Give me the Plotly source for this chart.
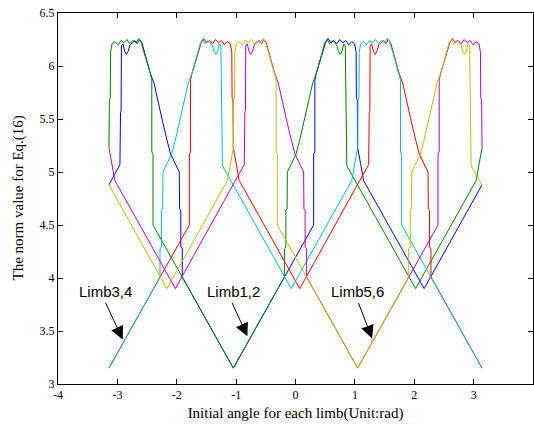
import plotly.graph_objects as go

# ---- data ----
BLUE_X = [-3.141,-2.967,-2.957,-2.947,-2.937,-2.932,-2.907,-2.877,-2.847,-2.817,-2.787,-2.747,-2.707,-2.667,-2.627,-2.587,-2.554,-2.494,-2.444,-2.384,-2.304,-2.244,-2.164,-2.104,-2.044,-1.957,-1.952,-1.932,-1.932,-1.907,-1.907,-1.047,0.306,0.306,0.326,0.326,0.350,0.400,0.456,0.506,0.546,0.596,0.646,0.696,0.746,0.796,0.846,0.896,0.946,0.996,1.021,1.026,1.041,1.046,1.096,1.146,2.166,3.142]
BLUE_Y = [4.88,5.05,5.07,5.56,5.58,6.19,6.21,6.14,6.11,6.14,6.20,6.22,6.24,6.21,6.25,6.22,6.15,6.02,5.93,5.84,5.62,5.49,5.30,5.17,5.10,5.00,4.65,4.64,4.29,4.28,4.01,3.15,4.50,5.17,5.19,5.87,5.93,6.02,6.13,6.22,6.26,6.22,6.24,6.21,6.25,6.22,6.24,6.20,6.23,6.21,6.13,5.70,5.68,5.23,5.08,4.92,3.90,4.88]

GREEN_X = [-3.142,-3.135,-3.120,-3.115,-3.090,-3.040,-2.990,-2.940,-2.890,-2.840,-2.790,-2.740,-2.690,-2.640,-2.600,-2.550,-2.494,-2.444,-2.420,-2.420,-2.400,-2.400,-1.047,-0.187,-0.187,-0.162,-0.162,-0.142,-0.137,-0.050,0.010,0.070,0.150,0.210,0.290,0.350,0.400,0.460,0.493,0.533,0.573,0.613,0.653,0.693,0.723,0.753,0.783,0.813,0.838,0.843,0.853,0.863,0.873,2.023,3.043,3.093,3.142]
GREEN_Y = [5.23,5.68,5.70,6.13,6.21,6.23,6.20,6.24,6.22,6.25,6.21,6.24,6.22,6.26,6.22,6.13,6.02,5.93,5.87,5.19,5.17,4.50,3.15,4.01,4.28,4.29,4.64,4.65,5.00,5.10,5.17,5.30,5.49,5.62,5.84,5.93,6.02,6.15,6.22,6.25,6.21,6.24,6.22,6.20,6.14,6.11,6.14,6.21,6.19,5.58,5.56,5.07,5.05,3.90,4.92,5.08,5.23]

RED_X = [-3.142,-1.788,-1.788,-1.768,-1.768,-1.744,-1.694,-1.638,-1.588,-1.548,-1.498,-1.448,-1.398,-1.348,-1.298,-1.248,-1.198,-1.148,-1.098,-1.073,-1.068,-1.053,-1.048,-0.998,-0.948,0.072,1.222,1.232,1.242,1.252,1.257,1.282,1.312,1.342,1.372,1.402,1.442,1.482,1.522,1.562,1.602,1.635,1.695,1.745,1.805,1.885,1.945,2.025,2.085,2.145,2.232,2.237,2.257,2.257,2.282,2.282,3.142]
RED_Y = [3.15,4.50,5.17,5.19,5.87,5.93,6.02,6.13,6.22,6.26,6.22,6.24,6.21,6.25,6.22,6.24,6.20,6.23,6.21,6.13,5.70,5.68,5.23,5.08,4.92,3.90,5.05,5.07,5.56,5.58,6.19,6.21,6.14,6.11,6.14,6.20,6.22,6.24,6.21,6.25,6.22,6.15,6.02,5.93,5.84,5.62,5.49,5.30,5.17,5.10,5.00,4.65,4.64,4.29,4.28,4.01,3.15]

CYAN_X = [-3.142,-2.282,-2.282,-2.257,-2.257,-2.237,-2.232,-2.145,-2.085,-2.025,-1.945,-1.885,-1.805,-1.745,-1.695,-1.635,-1.602,-1.562,-1.522,-1.482,-1.442,-1.402,-1.372,-1.342,-1.312,-1.282,-1.257,-1.252,-1.242,-1.232,-1.222,-0.072,0.948,0.998,1.048,1.053,1.068,1.073,1.098,1.148,1.198,1.248,1.298,1.348,1.398,1.448,1.498,1.548,1.588,1.638,1.694,1.744,1.768,1.768,1.788,1.788,3.142]
CYAN_Y = [3.15,4.01,4.28,4.29,4.64,4.65,5.00,5.10,5.17,5.30,5.49,5.62,5.84,5.93,6.02,6.15,6.22,6.25,6.21,6.24,6.22,6.20,6.14,6.11,6.14,6.21,6.19,5.58,5.56,5.07,5.05,3.90,4.92,5.08,5.23,5.68,5.70,6.13,6.21,6.23,6.20,6.24,6.22,6.25,6.21,6.24,6.22,6.26,6.22,6.13,6.02,5.93,5.87,5.19,5.17,4.50,3.15]

MAGENTA_X = [-3.142,-3.093,-3.043,-2.023,-0.873,-0.863,-0.853,-0.843,-0.838,-0.813,-0.783,-0.753,-0.723,-0.693,-0.653,-0.613,-0.573,-0.533,-0.493,-0.460,-0.400,-0.350,-0.290,-0.210,-0.150,-0.070,-0.010,0.050,0.137,0.142,0.162,0.162,0.187,0.187,1.047,2.400,2.400,2.420,2.420,2.444,2.494,2.550,2.600,2.640,2.690,2.740,2.790,2.840,2.890,2.940,2.990,3.040,3.090,3.115,3.120,3.135,3.142]
MAGENTA_Y = [5.23,5.08,4.92,3.90,5.05,5.07,5.56,5.58,6.19,6.21,6.14,6.11,6.14,6.20,6.22,6.24,6.21,6.25,6.22,6.15,6.02,5.93,5.84,5.62,5.49,5.30,5.17,5.10,5.00,4.65,4.64,4.29,4.28,4.01,3.15,4.50,5.17,5.19,5.87,5.93,6.02,6.13,6.22,6.26,6.22,6.24,6.21,6.25,6.22,6.24,6.20,6.23,6.21,6.13,5.70,5.68,5.23]

YELLOW_X = [-3.142,-2.166,-1.146,-1.096,-1.046,-1.041,-1.026,-1.021,-0.996,-0.946,-0.896,-0.846,-0.796,-0.746,-0.696,-0.646,-0.596,-0.546,-0.506,-0.456,-0.400,-0.350,-0.326,-0.326,-0.306,-0.306,1.047,1.907,1.907,1.932,1.932,1.952,1.957,2.044,2.104,2.164,2.244,2.304,2.384,2.444,2.494,2.554,2.587,2.627,2.667,2.707,2.747,2.787,2.817,2.847,2.877,2.907,2.932,2.937,2.947,2.957,2.967,3.141]
YELLOW_Y = [4.88,3.90,4.92,5.08,5.23,5.68,5.70,6.13,6.21,6.23,6.20,6.24,6.22,6.25,6.21,6.24,6.22,6.26,6.22,6.13,6.02,5.93,5.87,5.19,5.17,4.50,3.15,4.01,4.28,4.29,4.64,4.65,5.00,5.10,5.17,5.30,5.49,5.62,5.84,5.93,6.02,6.15,6.22,6.25,6.21,6.24,6.22,6.20,6.14,6.11,6.14,6.21,6.19,5.58,5.56,5.07,5.05,4.88]

X_TICKS = [-4, -3, -2, -1, 0, 1, 2, 3, 4]
X_TICK_TEXT = ["-4", "-3", "-2", "-1", "0", "1", "2", "3", "4"]
Y_TICKS = [3, 3.5, 4, 4.5, 5, 5.5, 6, 6.5]
Y_TICK_TEXT = ["3", "3.5", "4", "4.5", "5", "5.5", "6", "6.5"]

LIMB_LABELS = ["Limb3,4", "Limb1,2", "Limb5,6"]

series = [
    (BLUE_X, BLUE_Y, "#0000FF"),
    (GREEN_X, GREEN_Y, "#008000"),
    (RED_X, RED_Y, "#FF0000"),
    (CYAN_X, CYAN_Y, "#00BFBF"),
    (MAGENTA_X, MAGENTA_Y, "#BF00BF"),
    (YELLOW_X, YELLOW_Y, "#BFBF00"),
]

fig = go.Figure()
for xs, ys, col in series:
    fig.add_trace(go.Scatter(x=xs, y=ys, mode="lines",
                             line=dict(color=col, width=1),
                             showlegend=False, hoverinfo="skip"))

# label text positions and arrow (tail -> tip) positions in data units
label_pos = [(-3.20, 3.875), (-1.04, 3.875), (1.04, 3.875)]
arrow_tail = [(-3.21, 3.78), (-1.08, 3.78), (1.05, 3.78)]
arrow_tip = [(-2.91, 3.42), (-0.81, 3.45), (1.29, 3.43)]

annotations = []
for lab, (lx, ly), (tx, ty), (hx, hy) in zip(LIMB_LABELS, label_pos, arrow_tail, arrow_tip):
    annotations.append(dict(x=lx, y=ly, xref="x", yref="y", text=lab,
                            showarrow=False, xanchor="center", yanchor="middle",
                            font=dict(family="Liberation Sans", size=15, color="black")))
    annotations.append(dict(x=hx, y=hy, ax=tx, ay=ty, xref="x", yref="y",
                            axref="x", ayref="y", text="", showarrow=True,
                            arrowhead=2, arrowsize=2.6, arrowwidth=1,
                            arrowcolor="black"))

# y-axis title placed as a rotated annotation to match the reference position
plot_w = 534 - 58 - 1
annotations.append(dict(x=(18 - 58) / plot_w, y=0.5, xref="paper", yref="paper",
                        xanchor="center", yanchor="middle", showarrow=False,
                        textangle=-90, text="The norm value for Eq.(16)",
                        font=dict(family="Liberation Serif", size=15, color="black")))

axis_common = dict(showline=True, linecolor="black", linewidth=1, mirror="ticks",
                   ticks="inside", ticklen=5, tickcolor="black", showgrid=False,
                   zeroline=False,
                   tickfont=dict(family="Liberation Serif", size=12, color="black"))

fig.update_layout(
    width=534, height=430,
    margin=dict(l=58, r=1, t=13, b=46),
    paper_bgcolor="white", plot_bgcolor="white",
    xaxis=dict(range=[-4, 4], tickvals=X_TICKS, ticktext=X_TICK_TEXT,
               title=dict(text="Initial angle for each limb(Unit:rad)",
                          font=dict(family="Liberation Serif", size=15, color="black"),
                          standoff=6),
               **axis_common),
    yaxis=dict(range=[3, 6.5], tickvals=Y_TICKS, ticktext=Y_TICK_TEXT,
               **axis_common),
    annotations=annotations,
)

fig.write_html("out.html")
